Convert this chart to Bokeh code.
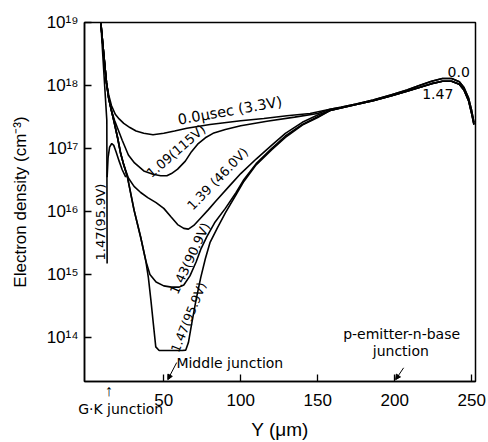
from bokeh.plotting import figure
from bokeh.models import Range1d, FixedTicker, CustomJSTickFormatter, Label, Arrow, NormalHead
from bokeh.embed import file_html
from bokeh.resources import INLINE

# ---------------- data (Y in um, electron density in cm^-3) ----------------
LEFT_X = [9.1, 10.4, 11.6, 12.8]
LEFT_N = [1.0e19, 4.5e18, 2.2e18, 1.1e18]

RIGHT_X = [158, 165, 175, 186, 198, 208, 216, 224, 231, 237, 242, 245, 248, 250, 251.5]
RIGHT_UPPER_N = [4.2e17, 4.5e17, 5.1e17, 5.9e17, 7.1e17, 8.5e17, 1.0e18, 1.17e18, 1.29e18,
                 1.29e18, 1.15e18, 9.3e17, 6.3e17, 4.0e17, 2.6e17]
RIGHT_LOWER_N = [4.0e17, 4.4e17, 5.0e17, 5.75e17, 6.9e17, 8.1e17, 9.3e17, 1.07e18, 1.17e18,
                 1.17e18, 1.05e18, 8.5e17, 5.75e17, 3.6e17, 2.4e17]

BUNDLE_X = [14.2, 16, 17.8, 20, 22, 24]
BUNDLE_N = [6.3e17, 4.0e17, 2.6e17, 1.48e17, 8.3e16, 5.5e16]

T00_X = [14.2, 16, 18.5, 21, 24, 28, 32, 37, 43, 50, 57, 65, 80, 100, 115, 130, 145]
T00_N = [7.1e17, 4.8e17, 3.5e17, 2.95e17, 2.5e17, 2.15e17, 1.9e17, 1.75e17, 1.65e17, 1.75e17,
         1.9e17, 2.1e17, 2.4e17, 2.75e17, 3.0e17, 3.3e17, 3.6e17]

T109_X = [14.2, 16, 18, 20, 23, 27, 31, 37, 43, 48, 52, 55, 59, 64, 68, 72, 77, 82, 90, 100,
          117, 135, 150]
T109_N = [6.3e17, 4.0e17, 2.8e17, 2.1e17, 1.35e17, 7.9e16, 5.9e16, 4.4e16, 3.9e16, 3.7e16,
          3.7e16, 4.0e16, 4.7e16, 6.3e16, 8.9e16, 1.17e17, 1.48e17, 1.74e17, 2.0e17, 2.3e17,
          2.7e17, 3.15e17, 3.6e17]

T139_X = [27, 30.7, 35, 39.6, 45, 50, 54.5, 59, 63, 66, 69.5, 74, 79, 84, 93, 100, 110, 120,
          129, 140, 150]
T139_N = [3.4e16, 2.5e16, 2.0e16, 1.66e16, 1.38e16, 1.12e16, 8.3e15, 6.2e15, 5.4e15, 5.25e15,
          6.0e15, 7.9e15, 1.07e16, 1.48e16, 2.6e16, 4.0e16, 6.8e16, 1.12e17, 1.74e17, 2.6e17,
          3.4e17]

T143_X = [26.4, 30.7, 35, 38.3, 41, 45, 50, 55, 60, 63, 67, 71, 74, 78, 83, 90, 97, 102, 110,
          120, 129, 140, 150]
T143_N = [3.5e16, 1.05e16, 3.9e15, 1.66e15, 1.0e15, 7.6e14, 6.6e14, 6.3e14, 6.3e14, 6.8e14,
          9.5e14, 1.58e15, 2.5e15, 4.0e15, 6.6e15, 1.12e16, 2.0e16, 3.2e16, 5.75e16, 1.0e17,
          1.58e17, 2.4e17, 3.2e17]

T147_X = [26.4, 30.7, 35, 38.3, 40, 41.6, 43.3, 44.8, 47, 52, 57, 62, 64.3, 66, 68, 71, 74, 77,
          80, 85, 90, 97, 102, 110, 120, 129, 140, 150]
T147_N = [3.5e16, 1.05e16, 3.9e15, 1.66e15, 8.9e14, 4.0e14, 1.58e14, 7.1e13, 6.2e13, 6.2e13,
          6.2e13, 6.2e13, 6.3e13, 8.3e13, 1.58e14, 4.0e14, 8.9e14, 1.78e15, 3.2e15, 5.6e15,
          9.5e15, 1.86e16, 3.0e16, 5.5e16, 9.5e16, 1.5e17, 2.35e17, 3.1e17]

HUMP_X = [13.2, 13.8, 14.8, 16.2, 17.5, 19, 21, 23, 25.3]
HUMP_N = [3.5e16, 7.1e16, 1.05e17, 1.2e17, 1.12e17, 8.9e16, 6.3e16, 4.6e16, 3.5e16]

CATHODE_X = [9.1, 10.6, 12.1, 13.0, 13.2]
CATHODE_N = [1.0e19, 2.5e18, 6.3e17, 2.8e17, 1.5e15]

X_TICKS = [50, 100, 150, 200, 250]
Y_TICKS = [1e14, 1e15, 1e16, 1e17, 1e18, 1e19]

FONT = "Liberation Sans"
AFONT = "DejaVu Sans"

p = figure(width=488, height=442, output_backend="svg", toolbar_location=None,
           y_axis_type="log", x_range=Range1d(-1.5, 252.5), y_range=Range1d(2e13, 1e19),
           min_border_left=84, min_border_right=13, min_border_top=22, min_border_bottom=61)
p.background_fill_color = "white"
p.border_fill_color = "white"
p.outline_line_color = "black"
p.outline_line_width = 1.5
p.grid.visible = False

curves = [
    (LEFT_X + T00_X + RIGHT_X, LEFT_N + T00_N + RIGHT_UPPER_N),
    (LEFT_X + T109_X + RIGHT_X, LEFT_N + T109_N + RIGHT_UPPER_N),
    (LEFT_X + BUNDLE_X + T139_X + RIGHT_X, LEFT_N + BUNDLE_N + T139_N + RIGHT_LOWER_N),
    (LEFT_X + BUNDLE_X + T143_X + RIGHT_X, LEFT_N + BUNDLE_N + T143_N + RIGHT_LOWER_N),
    (LEFT_X + BUNDLE_X + T147_X + RIGHT_X, LEFT_N + BUNDLE_N + T147_N + RIGHT_LOWER_N),
    (HUMP_X, HUMP_N),
    (CATHODE_X, CATHODE_N),
]
for xs, ns in curves:
    p.line(xs, ns, line_color="black", line_width=1.6)

for ax in (p.xaxis[0], p.yaxis[0]):
    ax.axis_line_width = 1.5
    ax.axis_line_color = "black"
    ax.major_tick_in = 7
    ax.major_tick_out = 0
    ax.major_tick_line_width = 1.3
    ax.major_tick_line_color = "black"
    ax.minor_tick_line_color = None
    ax.major_label_text_font = FONT
    ax.major_label_text_font_size = "17px"
    ax.major_label_text_color = "black"
    ax.axis_label_text_font = FONT
    ax.axis_label_text_font_style = "normal"
    ax.axis_label_text_color = "black"

p.xaxis.ticker = FixedTicker(ticks=X_TICKS)
p.xaxis.major_label_standoff = 12
p.xaxis.axis_label = "Y (\u03bcm)"
p.xaxis.axis_label_text_font_size = "19px"
p.xaxis.axis_label_standoff = 10

p.yaxis.ticker = FixedTicker(ticks=Y_TICKS)
p.yaxis.formatter = CustomJSTickFormatter(code="""
const sup = {'0':'\u2070','1':'\u00b9','2':'\u00b2','3':'\u00b3','4':'\u2074',
             '5':'\u2075','6':'\u2076','7':'\u2077','8':'\u2078','9':'\u2079'};
const e = Math.round(Math.log10(tick));
return '10' + String(e).split('').map(c => sup[c]).join('');
""")
p.yaxis.major_label_standoff = 6
p.yaxis.axis_label = "Electron density (cm\u207b\u00b3)"
p.yaxis.axis_label_text_font_size = "17px"
p.yaxis.axis_label_standoff = 14

def lab(x, y, text, angle=0, size="14px", place="center", font=AFONT):
    p.add_layout(Label(x=x, y=y, text=text, angle=angle, angle_units="deg",
                       text_align="center", text_baseline="middle", text_font=font,
                       text_font_size=size, text_color="black"), place)

lab(92.9, 4.0e17, "0.0\u03bcsec (3.3V)", 10, "14.5px")
lab(58.0, 9.1e16, "1.09(115V)", 41, "13px")
lab(85.0, 3.3e16, "1.39 (46.0V)", 46, "13px")
lab(67.0, 1.8e15, "1.43(90.9V)", 65, "13px")
lab(66.0, 2.1e14, "1.47(95.9V)", 68, "12.5px")
lab(9.1, 6.8e15, "1.47(95.9V)", 90, "13px")
lab(241.6, 1.62e18, "0.0")
lab(228, 7.4e17, "1.47")
lab(92.9, 4.0e13, "Middle junction")
lab(204.5, 1.12e14, "p-emitter-n-base")
lab(204, 6.2e13, "junction")
# below-axis annotations live in border panels where they fit, so they are not clipped
lab(22, 7.4e12, "G\u00b7K junction", place="above")
lab(14.3, 1.45e13, "\u2191", size="16px", place="right", font=FONT)

for xs, ys, xe, ye in [(58.4, 4.0e13, 52.6, 2.14e13), (205.8, 3.3e13, 200.6, 2.14e13)]:
    p.add_layout(Arrow(end=NormalHead(size=5, fill_color="black", line_color="black"),
                       x_start=xs, y_start=ys, x_end=xe, y_end=ye,
                       line_color="black", line_width=1))

open("out.html", "w").write(file_html(p, INLINE))
